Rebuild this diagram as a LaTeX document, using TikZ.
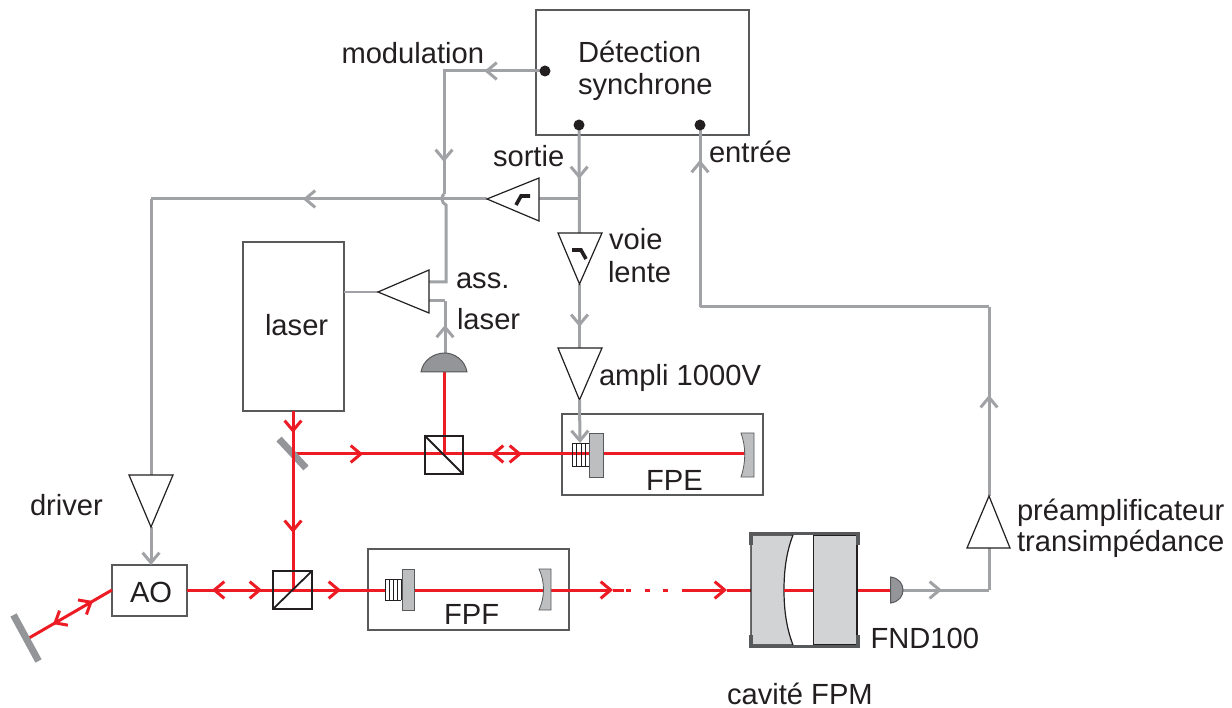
\documentclass[tikz,border=0pt]{standalone}
\usepackage{fontspec}
\setmainfont{Liberation Sans}
\usetikzlibrary{arrows.meta,decorations.markings,calc}
\definecolor{glc}{HTML}{A0A2A5}
\definecolor{rdc}{HTML}{ED1C24}
\definecolor{ink}{HTML}{231F20}
\definecolor{boxc}{HTML}{58595B}
\definecolor{mirc}{HTML}{939598}
\definecolor{platec}{HTML}{BCBEC0}
\definecolor{cavc}{HTML}{D1D3D4}
\tikzset{
  x=1pt,y=-1pt,
  barb/.tip={Straight Barb[length=10pt,width=15pt,line width=3pt,angle'=80]},
  mk/.style={postaction={decorate,decoration={markings,mark=at position #1 with {\arrow{barb}}}}},
  mkr/.style={postaction={decorate,decoration={markings,mark=at position #1 with {\arrowreversed{barb}}}}},
  gline/.style={draw=glc,line width=3pt},
  rline/.style={draw=rdc,line width=3pt},
  txt/.style={anchor=base west,inner sep=0pt,outer sep=0pt,text=ink,font=\fontsize{29.15}{34}\selectfont},
  bx/.style={draw=boxc,line width=1.4pt,fill=none,inner sep=0pt,outer sep=0pt},
  amp/.style={draw=ink,line width=1.2pt,fill=white,line join=miter},
  cube/.style={draw=ink,line width=2.7pt,fill=none},
  thinl/.style={draw=ink,line width=.9pt},
  glyphl/.style={draw=ink,line width=3.6pt},
  mirror/.style={draw=mirc,line width=7pt},
  plate/.style={draw=boxc,line width=.8pt,fill=platec},
  dome/.style={draw=boxc,line width=1pt,fill=mirc},
}
\begin{document}
\begin{tikzpicture}
\useasboundingbox (0,0) rectangle (1232,708);
% boxes
\node[bx,minimum width=213pt,minimum height=125pt] (det) at (642.5,72.5) {};
\node[bx,minimum width=101pt,minimum height=169pt] (las) at (293.5,326.5) {};
\node[bx,minimum width=75pt,minimum height=51pt] (ao) at (149.5,590.5) {};
\node[bx,minimum width=201pt,minimum height=81pt] (fpe) at (662.5,454.5) {};
\node[bx,minimum width=201pt,minimum height=81pt] (fpf) at (468.5,589.5) {};
% key points
\coordinate (dmod) at (545,71);
\coordinate (dsor) at (579,125);
\coordinate (dent) at (700,125);
\coordinate (cmodc) at (444,71);
\coordinate (hopa) at (444,194);
\coordinate (hopb) at (446,205);
\coordinate (jct) at (579,199);
\coordinate (ampAin) at (429,282);
\coordinate (ampAin2) at (429,301);
\coordinate (ampAapex) at (378,292);
\coordinate (ampBbase) at (539,199);
\coordinate (ampBapex) at (487,199);
\coordinate (vlTop) at (579.5,233);
\coordinate (vlApex) at (579.5,284);
\coordinate (haTop) at (579.5,348);
\coordinate (haApex) at (579.5,400);
\coordinate (drTop) at (151,475);
\coordinate (drApex) at (151,527);
\coordinate (preTop) at (989,496);
\coordinate (preBot) at (989,548);
\coordinate (leftc) at (151,199);
\coordinate (pdA) at (445,353);
\coordinate (pdAb) at (444,372);
\coordinate (pdB) at (903,590);
\coordinate (cc1) at (989,590);
\coordinate (cc2) at (989,307);
\coordinate (cc3) at (700,307);
\coordinate (act) at (580,443);
\coordinate (bs1) at (444,454);
\coordinate (bs2) at (293,590);
\coordinate (m1) at (293,454);
\coordinate (m2a) at (29,638);
\coordinate (m2b) at (112,590);
% grey connectors
\draw[gline,mk=0.6,line cap=rect] (dmod) -- (cmodc);
\draw[gline,mk=0.74] (cmodc) -- (hopa);
\draw[gline] (hopa) .. controls (441,196) and (441,203) .. (hopb) -- (446,282) -- (ampAin);
\draw[gline,mk=0.54] (pdA) -- (pdA |- ampAin2);
\draw[gline] (pdA |- ampAin2) -- (ampAin2);
\draw[draw=glc,line width=2pt] (ampAapex) -- (las.east |- ampAapex);
\draw[gline,mk=0.5] (dsor) -- (vlTop);
\draw[gline] (ampBbase) -- (jct);
\draw[gline,mk=0.548] (ampBapex) -- (leftc);
\draw[gline] (leftc) -- (drTop);
\draw[gline,mk=0.67] (vlApex) -- (haTop);
\draw[gline,-{barb}] (drApex) -- (ao.north -| drApex);
\draw[gline,mk=0.453] (pdB) -- (cc1);
\draw[gline] (cc1) -- (preBot);
\draw[gline,mk=0.534] (preTop) -- (cc2);
\draw[gline] (cc2) -- (cc3);
\draw[gline,mk=0.808] (cc3) -- (dent);
% amplifiers
\path[amp] (429,270) -- (ampAapex) -- (429,313) -- cycle;
\path[amp] (539,178) -- (ampBapex) -- (539,221) -- cycle;
\path[amp] (558,233) -- (602,233) -- (vlApex) -- cycle;
\path[amp] (558,348) -- (602,348) -- (haApex) -- cycle;
\path[amp] (129,475) -- (173,475) -- (drApex) -- cycle;
\path[amp] (967,548) -- (1010,548) -- (preTop) -- cycle;
\draw[glyphl] (516,205) -- (521,196) -- (530,196);
\draw[glyphl] (572,250) -- (581,250) -- (586,259);
% red beams
\draw[rline,mk=0.464] (m1) -- (bs1);
\draw[rline] (pdAb) -- (bs1);
\draw[rline] (bs1) -- (589,454);
\draw[rline,{barb}-{barb}] (491,454) -- (522,454);
\draw[rline] (603,454) -- (745,454);
\draw[rline] (ao.east |- bs2) -- (bs2);
\draw[rline,{barb}-{barb}] (212,590) -- (262,590);
\draw[rline] (bs2) -- (385,590);
\draw[rline,-{barb}] (312,590) -- (341,590);
\draw[rline] (414,590) -- (547,590);
\draw[rline,-{barb}] (551,590) -- (613,590);
\draw[rline] (613,590) -- (624,590);
\draw[rline] (626,590) -- (631,590);
\draw[rline] (645,590) -- (650,590);
\draw[rline] (663,590) -- (668,590);
\draw[rline,-{barb}] (682,590) -- (727,590);
\draw[rline] (727,590) -- (751,590);
\draw[rline] (857,590) -- (890,590);
\draw[rline,mk=0.77,mkr=0.29] (m2a) -- (m2b);
% mirrors
\draw[mirror] (279,439) -- (306,468);
\draw[mirror] (13.5,615) -- (38.5,661);
\draw[rline,mk=0.51] (293,411) -- (m1);
\draw[rline,mk=0.58] (m1) -- (bs2);
% cubes
\draw[cube] (425,436) rectangle (463,474);
\draw[draw=ink,line width=1.8pt] (425,436) -- (463,474);
\draw[cube] (273,571) rectangle (312,609);
\draw[draw=ink,line width=1.8pt] (273,609) -- (312,571);
% FPE
\foreach \xx in {572,576.5,581,585,589} \draw[thinl] (\xx,443) -- (\xx,466);
\draw[thinl] (572,443) -- (589,443) (572,466) -- (589,466);
\draw[plate] (589,433) rectangle (603,477);
\path[plate] (741,433) -- (754,433) -- (754,477) -- (741,477) .. controls (746,462) and (746,447) .. cycle;
\draw[gline,-{barb}] (haApex) -- (act);
% FPF
\foreach \xx in {385,389,393,397,401} \draw[thinl] (\xx,579) -- (\xx,600);
\draw[thinl] (385,579) -- (401,579) (385,600) -- (401,600);
\draw[plate] (402,569) rectangle (414,610);
\path[plate] (539,569) -- (551,569) -- (551,610) -- (539,610) .. controls (545,597) and (545,582) .. cycle;
% cavity
\path[draw=ink,line width=1.2pt,fill=cavc] (751,535) -- (793,535) .. controls (786,553) and (784,572) .. (784,590) .. controls (784,608) and (786,627) .. (793,645) -- (751,645) -- cycle;
\path[draw=ink,line width=1.2pt,fill=cavc] (813.5,535) -- (857,535) -- (857,645) -- (813.5,645) -- cycle;
\draw[rline] (784,590) -- (813,590);
\path[draw=boxc,line width=3.4pt,line join=miter] (751,545) -- (751,533.5) -- (858,533.5) -- (858,545);
\path[draw=boxc,line width=3.4pt,line join=miter] (751,635) -- (751,646.5) -- (858,646.5) -- (858,635);
% photodiodes
\path[dome] (421,372) .. controls (423,360) and (434,353) .. (pdA) .. controls (454,353) and (465,360) .. (467,372) -- cycle;
\path[dome] (890.5,577) .. controls (899,578) and (903,584) .. (pdB) .. controls (903,596) and (899,602) .. (890.5,603) -- cycle;
% dots
\foreach \p in {dmod,dsor,dent} \fill[ink] (\p) circle (5.5pt);
% labels
\node[txt] (tdet) at (578,62.5) {Détection};
\node[txt] (tsyn) at (578,94.5) {synchrone};
\node[txt] (tmod) at (341.5,64) {modulation};
\node[txt] (tsor) at (493,167) {sortie};
\node[txt] (tent) at (709,162.5) {entrée};
\node[txt] (tvoi) at (609,250) {voie};
\node[txt] (tlen) at (608,283) {lente};
\node[txt] (tass) at (456,289) {ass.};
\node[txt] (tlsr) at (457,330) {laser};
\node[txt] (tamp) at (599,385.5) {ampli 1000V};
\node[txt] (tlas) at (265,336) {laser};
\node[txt] (tfpe) at (646,490.5) {FPE};
\node[txt] (tfpf) at (444,624.5) {FPF};
\node[txt] (tao) at (130,602.5) {AO};
\node[txt] (tdri) at (30,515) {driver};
\node[txt] (tpre) at (1017,520) {préamplificateur};
\node[txt] (ttra) at (1017,551) {transimpédance};
\node[txt] (tfnd) at (870.5,648) {FND100};
\node[txt] (tcav) at (727,704) {cavité FPM};
\end{tikzpicture}
\end{document}
